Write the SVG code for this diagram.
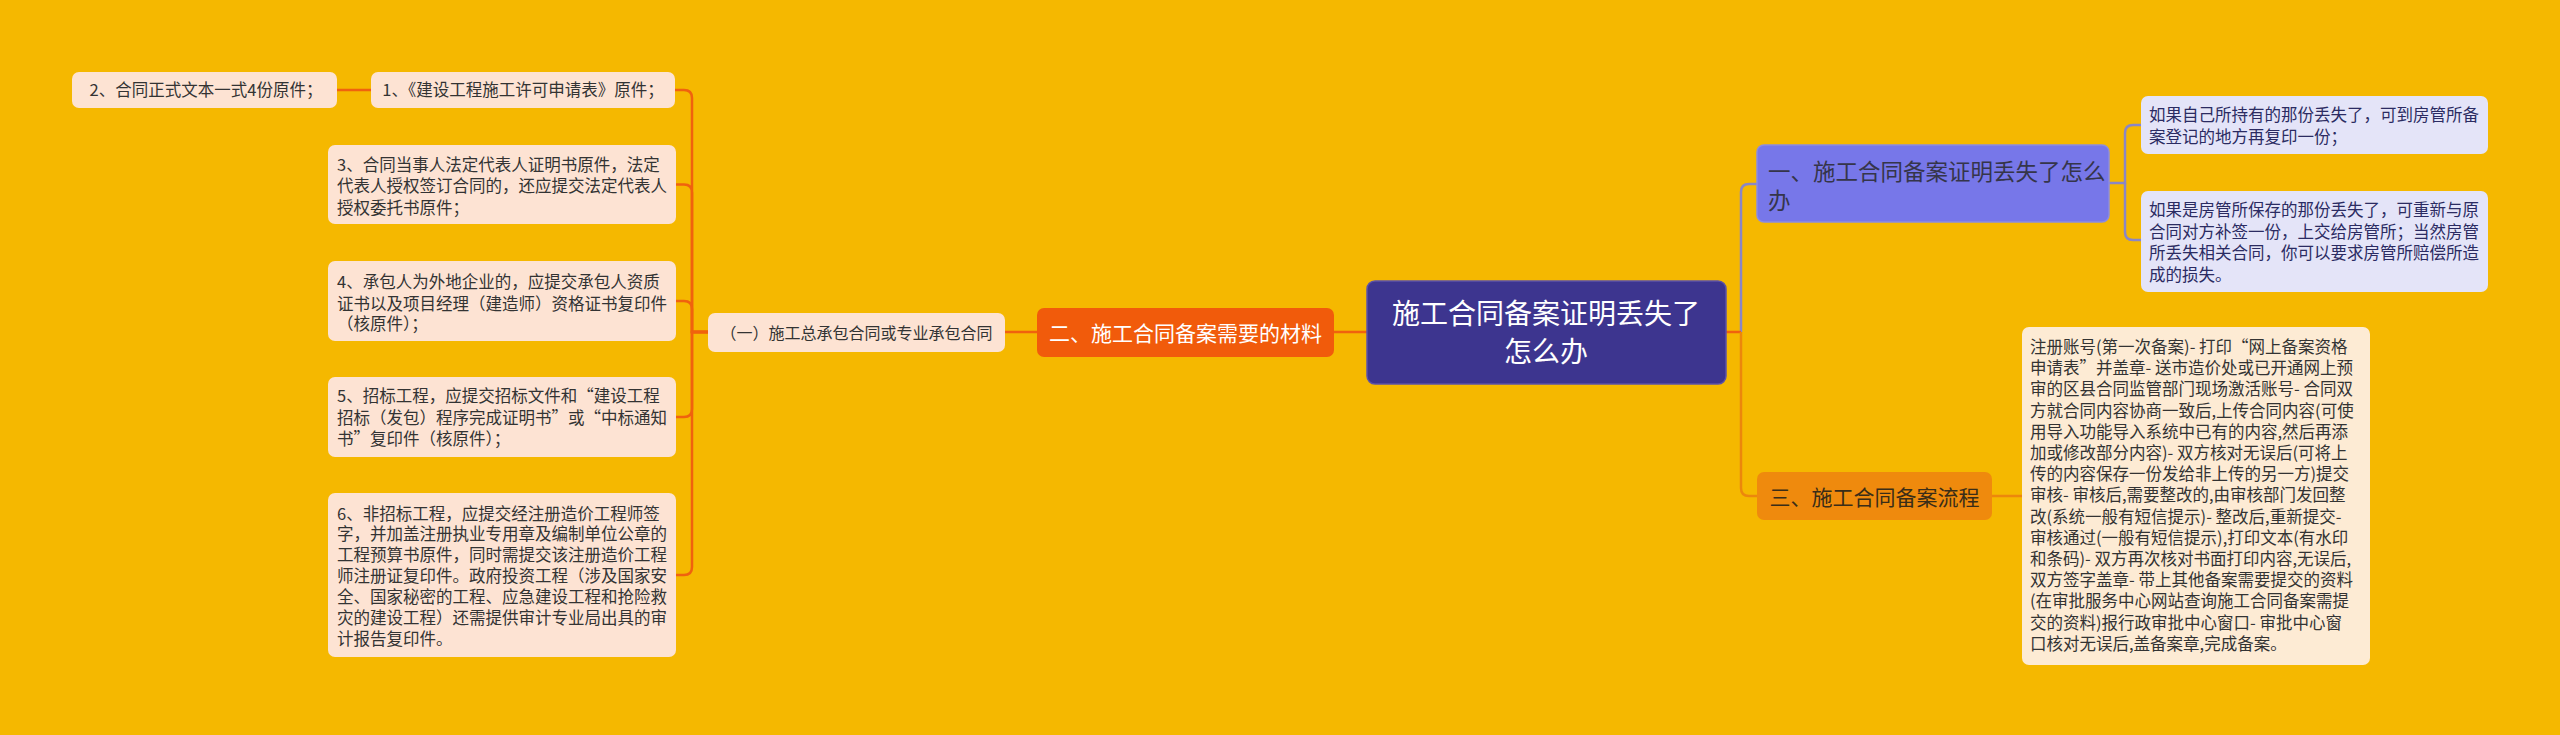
<svg xmlns="http://www.w3.org/2000/svg" width="2560" height="735" viewBox="0 0 2560 735">
<style>
  text { font-family: "Noto Sans CJK SC", "Noto Sans", sans-serif; }
  .bg { fill: #f5b800; }
  .leafL { fill: #fde3d3; }
  .leafR { fill: #e4e4f8; }
  .big { fill: #fdebd4; }
  .t { font-size: 16.5px; fill: #333333; }
  .tR { font-size: 16.5px; fill: #2b2b62; }
  .c { text-anchor: middle; }
  .lo { fill: none; stroke: #f0620e; stroke-width: 2.5; }
  .lp { fill: none; stroke: #8a86c6; stroke-width: 2.5; }
  .lr { fill: none; stroke: #ec870c; stroke-width: 2.5; }
</style>
<rect class="bg" x="0" y="0" width="2560" height="735"/>

<g id="connectors">
  <!-- left side -->
  <path class="lo" d="M1367,332 H1334"/>
  <path class="lo" d="M1037,332 H1005"/>
  <path class="lo" d="M708,332 H692 V98 Q692,90 684,90 H675"/>
  <path class="lo" d="M708,332 H692 V192.5 Q692,184.5 684,184.5 H676"/>
  <path class="lo" d="M708,332 H692 V309 Q692,301 684,301 H676"/>
  <path class="lo" d="M708,332 H692 V409 Q692,417 684,417 H676"/>
  <path class="lo" d="M708,332 H692 V567 Q692,575 684,575 H676"/>
  <path class="lo" d="M371,90 H337"/>
  <!-- right side -->
  <path class="lp" d="M1741,332 V192 Q1741,184 1749,184 H1757"/>
  <path class="lo" d="M1726,332 H1741"/>
  <path class="lr" d="M1741,332 V488 Q1741,496 1749,496 H1757"/>
  <path class="lp" d="M2109,183 H2125 V133 Q2125,125 2133,125 H2141"/>
  <path class="lp" d="M2125,183 V232 Q2125,240 2133,240 H2141"/>
  <path class="lr" d="M1992,496 H2022"/>
</g>

<g id="root">
  <rect x="1367" y="281" width="359" height="103" rx="8" fill="#3d358f" stroke="#5c52a8" stroke-width="1.5"/>
  <text x="1546" y="323.5" font-size="28" fill="#ffffff" text-anchor="middle">施工合同备案证明丢失了</text>
  <text x="1546" y="361.5" font-size="28" fill="#ffffff" text-anchor="middle">怎么办</text>
</g>

<g id="node-er">
  <rect x="1037" y="308" width="297" height="49" rx="7" fill="#f15b0b"/>
  <text x="1185.5" y="340.5" font-size="21" fill="#ffffff" text-anchor="middle">二、施工合同备案需要的材料</text>
</g>

<g id="node-yi-sub">
  <rect class="leafL" x="708" y="313" width="297" height="39" rx="7"/>
  <text class="t c" x="856.5" y="338.5" style="font-size:16px">（一）施工总承包合同或专业承包合同</text>
</g>

<g id="leaf-1">
  <rect class="leafL" x="371" y="72" width="304" height="36" rx="7"/>
  <text class="t c" x="523" y="96.3">1、《建设工程施工许可申请表》原件；</text>
</g>

<g id="leaf-2">
  <rect class="leafL" x="72" y="72" width="265" height="36" rx="7"/>
  <text class="t c" x="206" y="96.3">2、合同正式文本一式4份原件；</text>
</g>

<g id="leaf-3">
  <rect class="leafL" x="328" y="145" width="348" height="79" rx="7"/>
  <text class="t" x="337" y="170.5">3、合同当事人法定代表人证明书原件，法定</text>
  <text class="t" x="337" y="192">代表人授权签订合同的，还应提交法定代表人</text>
  <text class="t" x="337" y="213.5">授权委托书原件；</text>
</g>

<g id="leaf-4">
  <rect class="leafL" x="328" y="261" width="348" height="80" rx="7"/>
  <text class="t" x="337" y="288">4、承包人为外地企业的，应提交承包人资质</text>
  <text class="t" x="337" y="309.5">证书以及项目经理（建造师）资格证书复印件</text>
  <text class="t" x="337" y="330">（核原件）；</text>
</g>

<g id="leaf-5">
  <rect class="leafL" x="328" y="377" width="348" height="80" rx="7"/>
  <text class="t" x="337" y="401.5">5、招标工程，应提交招标文件和“建设工程</text>
  <text class="t" x="337" y="423.5">招标（发包）程序完成证明书”或“中标通知</text>
  <text class="t" x="337" y="444.5">书”复印件（核原件）；</text>
</g>

<g id="leaf-6">
  <rect class="leafL" x="328" y="493" width="348" height="164" rx="7"/>
  <text class="t" x="337" y="519.5">6、非招标工程，应提交经注册造价工程师签</text>
  <text class="t" x="337" y="540">字，并加盖注册执业专用章及编制单位公章的</text>
  <text class="t" x="337" y="560.5">工程预算书原件，同时需提交该注册造价工程</text>
  <text class="t" x="337" y="581.5">师注册证复印件。政府投资工程（涉及国家安</text>
  <text class="t" x="337" y="602.5">全、国家秘密的工程、应急建设工程和抢险救</text>
  <text class="t" x="337" y="624">灾的建设工程）还需提供审计专业局出具的审</text>
  <text class="t" x="337" y="644.5">计报告复印件。</text>
</g>

<g id="node-yi">
  <rect x="1757" y="145" width="352" height="77" rx="7" fill="#7777e9" stroke="#8c8ce0" stroke-width="1.5"/>
  <text x="1768" y="180" font-size="22.5" fill="#35354a">一、施工合同备案证明丢失了怎么</text>
  <text x="1768" y="208.5" font-size="22.5" fill="#35354a">办</text>
</g>

<g id="leaf-r1">
  <rect class="leafR" x="2141" y="96" width="347" height="58" rx="7"/>
  <text class="tR" x="2149" y="121.3">如果自己所持有的那份丢失了，可到房管所备</text>
  <text class="tR" x="2149" y="142.8">案登记的地方再复印一份；</text>
</g>

<g id="leaf-r2">
  <rect class="leafR" x="2141" y="191" width="347" height="101" rx="7"/>
  <text class="tR" x="2149" y="216.3">如果是房管所保存的那份丢失了，可重新与原</text>
  <text class="tR" x="2149" y="238">合同对方补签一份，上交给房管所；当然房管</text>
  <text class="tR" x="2149" y="259">所丢失相关合同，你可以要求房管所赔偿所造</text>
  <text class="tR" x="2149" y="280.6">成的损失。</text>
</g>

<g id="node-san">
  <rect x="1757" y="472" width="235" height="48" rx="7" fill="#ef8a0d"/>
  <text x="1874.5" y="504.5" font-size="21" fill="#3a2d18" text-anchor="middle">三、施工合同备案流程</text>
</g>

<g id="leaf-process">
  <rect class="big" x="2022" y="327" width="348" height="338" rx="7"/>
  <text class="t" x="2030" y="353">注册账号(第一次备案)- 打印“网上备案资格</text>
  <text class="t" x="2030" y="374.2">申请表”并盖章- 送市造价处或已开通网上预</text>
  <text class="t" x="2030" y="395.4">审的区县合同监管部门现场激活账号- 合同双</text>
  <text class="t" x="2030" y="416.6">方就合同内容协商一致后,上传合同内容(可使</text>
  <text class="t" x="2030" y="437.8">用导入功能导入系统中已有的内容,然后再添</text>
  <text class="t" x="2030" y="459">加或修改部分内容)- 双方核对无误后(可将上</text>
  <text class="t" x="2030" y="480.2">传的内容保存一份发给非上传的另一方)提交</text>
  <text class="t" x="2030" y="501.4">审核- 审核后,需要整改的,由审核部门发回整</text>
  <text class="t" x="2030" y="522.6">改(系统一般有短信提示)- 整改后,重新提交-</text>
  <text class="t" x="2030" y="543.8">审核通过(一般有短信提示),打印文本(有水印</text>
  <text class="t" x="2030" y="565">和条码)- 双方再次核对书面打印内容,无误后,</text>
  <text class="t" x="2030" y="586.2">双方签字盖章- 带上其他备案需要提交的资料</text>
  <text class="t" x="2030" y="607.4">(在审批服务中心网站查询施工合同备案需提</text>
  <text class="t" x="2030" y="628.6">交的资料)报行政审批中心窗口- 审批中心窗</text>
  <text class="t" x="2030" y="649.8">口核对无误后,盖备案章,完成备案。</text>
</g>
</svg>
